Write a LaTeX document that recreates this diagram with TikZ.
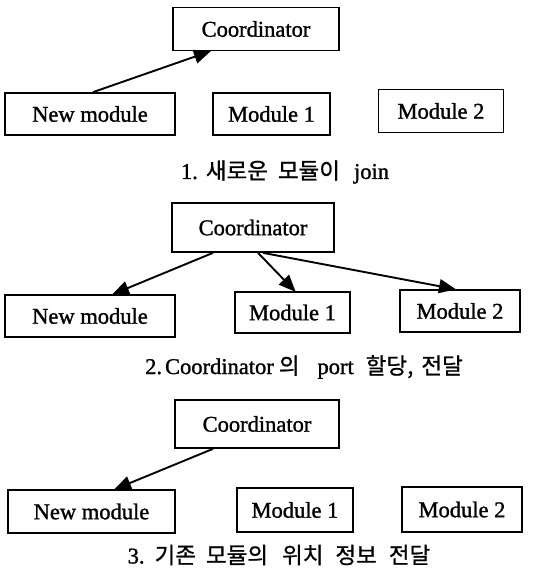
\documentclass[tikz,border=0pt]{standalone}
\usepackage{fontspec}
\setmainfont[FakeBold=1.2]{Liberation Serif}
\newfontfamily\kr[FakeBold=0.8]{Noto Sans CJK KR}
\usetikzlibrary{arrows.meta}
\tikzset{
  box/.style={draw, line width=1.7pt, rectangle, inner sep=0pt, font=\fontsize{22.5}{24}\selectfont},
  arr/.style={line width=1.9pt, -{Triangle[length=17pt,width=14pt]}, shorten >=-1pt},
  captext/.style={inner sep=0pt, font=\fontsize{22.5}{24}\selectfont}
}
\begin{document}
\begin{tikzpicture}[x=1pt,y=-1pt]
\useasboundingbox[fill=white] (0,0) rectangle (537,570);
% Panel 1
\node[box, minimum width=166pt, minimum height=43pt] (C1) at (256,29) {Coordinator};
\node[box, minimum width=170pt, minimum height=42pt] (N1) at (90,114) {New module};
\node[box, minimum width=117pt, minimum height=42pt] (M11) at (271.5,114) {Module 1};
\node[box, minimum width=125pt, minimum height=43pt] (M21) at (441,111) {Module 2};
\draw[arr] ([xshift=3pt]N1.north) -- ([xshift=-46pt]C1.south);
\node[captext] (T1) at (285,172) {1.\hspace{8pt}{\kr 새로운}\hspace{10pt}{\kr 모듈이}\hspace{14pt}join};
% Panel 2
\node[box, minimum width=162pt, minimum height=49pt] (C2) at (253,227.5) {Coordinator};
\node[box, minimum width=170pt, minimum height=42pt] (N2) at (90,316) {New module};
\node[box, minimum width=115pt, minimum height=41pt] (M12) at (292.5,312.5) {Module 1};
\node[box, minimum width=120pt, minimum height=42pt] (M22) at (460,311) {Module 2};
\draw[arr] ([xshift=-40pt]C2.south) -- ([xshift=23pt]N2.north);
\draw[arr] ([xshift=5pt]C2.south) -- ([xshift=2.5pt]M12.north);
\draw[arr] ([xshift=10pt]C2.south) -- ([xshift=-5pt]M22.north);
\node[captext] (T2) at (304,367) {2.\hspace{3pt}Coordinator\hspace{5pt}{\kr 의}\hspace{18pt}port\hspace{12pt}{\kr 할당,}\hspace{8pt}{\kr 전달}};
% Panel 3
\node[box, minimum width=164pt, minimum height=48pt] (C3) at (257,424) {Coordinator};
\node[box, minimum width=167pt, minimum height=43pt] (N3) at (91.5,511.5) {New module};
\node[box, minimum width=116pt, minimum height=44pt] (M13) at (295,510) {Module 1};
\node[box, minimum width=120pt, minimum height=45pt] (M23) at (462,509.5) {Module 2};
\draw[arr] ([xshift=-44pt]C3.south) -- ([xshift=23.5pt]N3.north);
\node[captext] (T3) at (279,555) {3.\hspace{10pt}{\kr 기존}\hspace{10pt}{\kr 모듈의}\hspace{14pt}{\kr 위치}\hspace{12pt}{\kr 정보}\hspace{12pt}{\kr 전달}};
\end{tikzpicture}
\end{document}
